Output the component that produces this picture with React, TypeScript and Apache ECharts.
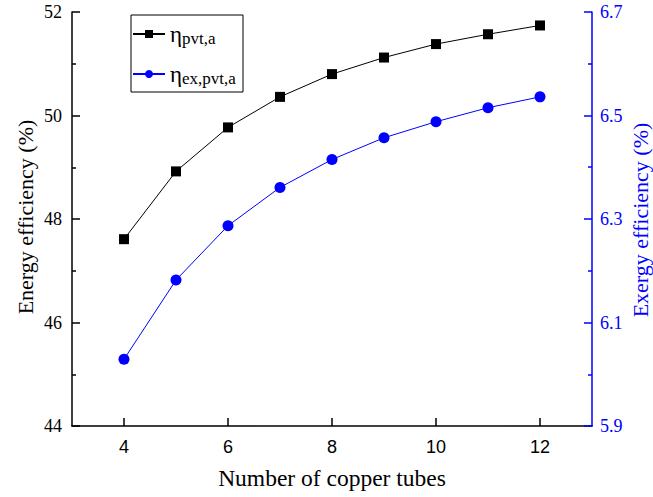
import React, { useEffect, useRef } from "react";
import * as echarts from "echarts";

const tubes = [4, 5, 6, 7, 8, 9, 10, 11, 12];
const energyEff = [47.61, 48.92, 49.77, 50.36, 50.8, 51.12, 51.38, 51.57, 51.74];
const exergyEff = [6.029, 6.182, 6.287, 6.361, 6.415, 6.457, 6.488, 6.515, 6.536];
const xCategories = ["3", "4", "5", "6", "7", "8", "9", "10", "11", "12", "13"];
const seriesNames = ["pvt", "expvt"];
const seriesSubs = ["pvt,a", "ex,pvt,a"];
const xTitle = "Number of copper tubes";
const yLeftTitle = "Energy efficiency (%)";
const yRightTitle = "Exergy efficiency (%)";

const FONT = "'Liberation Serif', 'Times New Roman', serif";
const BLUE = "#0000ff";

export default function App() {
  const ref = useRef<HTMLDivElement>(null);
  useEffect(() => {
    if (!ref.current) return;
    const chart = echarts.init(ref.current, undefined, { renderer: "svg" });
    const isMajor = (idx: number) => idx % 2 === 1;
    const option: any = {
      animation: false,
      grid: { left: 72, top: 12, right: 61, bottom: 71, outerBoundsMode: "none" },
      graphic: [
        {
          type: "rect",
          shape: { x: 131, y: 15, width: 112, height: 77 },
          style: { fill: "none", stroke: "#000", lineWidth: 1 },
          silent: true,
        },
        {
          type: "text",
          x: 332,
          y: 478,
          style: { text: xTitle, fontFamily: FONT, fontSize: 23.5, fill: "#000", align: "center", verticalAlign: "middle" },
        },
        {
          type: "text",
          x: 25,
          y: 217,
          rotation: Math.PI / 2,
          style: { text: yLeftTitle, fontFamily: FONT, fontSize: 22, fill: "#000", align: "center", verticalAlign: "middle" },
        },
        {
          type: "text",
          x: 640,
          y: 220,
          rotation: Math.PI / 2,
          style: { text: yRightTitle, fontFamily: FONT, fontSize: 22, fill: BLUE, align: "center", verticalAlign: "middle" },
        },
      ],
      legend: {
        orient: "vertical",
        left: 131,
        top: 16,
        padding: [5, 4, 7, 1],
        borderWidth: 0,
        itemWidth: 32,
        itemHeight: 10,
        itemGap: 14,
        data: seriesNames,
        formatter: (name: string) => {
          const i = seriesNames.indexOf(name);
          return `{a|η}{b|${seriesSubs[i]}}`;
        },
        textStyle: {
          fontFamily: FONT,
          rich: {
            a: { fontSize: 23, fontFamily: FONT, color: "#000", lineHeight: 24 },
            b: { fontSize: 17, fontFamily: FONT, color: "#000", padding: [9, 0, 0, 0], lineHeight: 24 },
          },
        },
      },
      xAxis: [
        {
          type: "category",
          data: xCategories,
          boundaryGap: false,
          axisLine: { show: true, onZero: false, lineStyle: { color: "#000", width: 1.5 } },
          axisTick: { show: true, inside: true, length: 8, interval: (i: number) => isMajor(i), lineStyle: { color: "#000", width: 1.5 } },
          axisLabel: { interval: (i: number) => isMajor(i), fontSize: 18, color: "#000", margin: 12 },
        },
      ],
      yAxis: [
        {
          type: "value",
          min: 44,
          max: 52,
          interval: 2,
          position: "left",
          axisLine: { show: true, onZero: false, lineStyle: { color: "#000", width: 1.5 } },
          axisTick: { show: true, inside: true, length: 8, lineStyle: { color: "#000", width: 1.5 } },
          minorTick: { show: true, splitNumber: 2, length: 4, lineStyle: { color: "#000", width: 1.5 } },
          axisLabel: { fontFamily: "Liberation Serif", fontSize: 18, color: "#000", margin: 10 },
          splitLine: { show: false },
        },
        {
          type: "value",
          min: 5.9,
          max: 6.7,
          interval: 0.2,
          position: "right",
          axisLine: { show: true, lineStyle: { color: BLUE, width: 1.5 } },
          axisTick: { show: true, inside: true, length: 8, lineStyle: { color: BLUE, width: 1.5 } },
          minorTick: { show: true, splitNumber: 2, length: 4, lineStyle: { color: BLUE, width: 1.5 } },
          axisLabel: {
            fontFamily: FONT,
            fontSize: 18,
            color: BLUE,
            margin: 8,
            formatter: (v: number) => v.toFixed(1),
          },
          splitLine: { show: false },
        },
      ],
      series: [
        {
          name: seriesNames[0],
          type: "line",
          xAxisIndex: 0,
          yAxisIndex: 0,
          data: tubes.map((t, i) => [String(t), energyEff[i]]),
          symbol: "rect",
          symbolSize: 10,
          lineStyle: { color: "#000", width: 1 },
          itemStyle: { color: "#000" },
        },
        {
          name: seriesNames[1],
          type: "line",
          xAxisIndex: 0,
          yAxisIndex: 1,
          data: tubes.map((t, i) => [String(t), exergyEff[i]]),
          symbol: "circle",
          symbolSize: 11,
          lineStyle: { color: BLUE, width: 1 },
          itemStyle: { color: BLUE },
        },
      ],
    };
    chart.setOption(option);
    return () => chart.dispose();
  }, []);
  return <div ref={ref} style={{ width: 653, height: 497, position: "absolute", left: 0, top: 0, background: "#fff" }} />;
}
